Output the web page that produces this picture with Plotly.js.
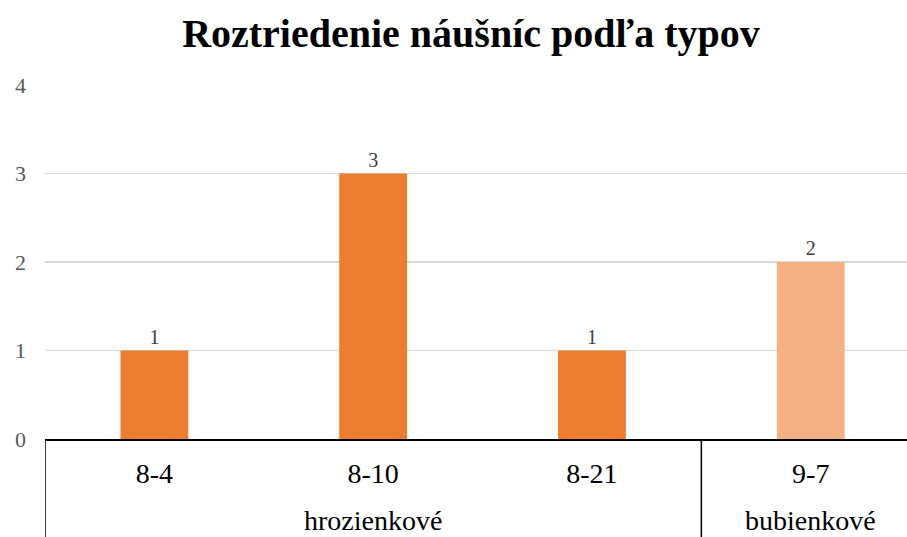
<!DOCTYPE html>
<html>
<head>
<meta charset="utf-8">
<script src="https://cdn.plot.ly/plotly-3.0.1.min.js"></script>
<style>html,body{margin:0;padding:0;background:#fff;}#chart{width:907px;height:537px;}</style>
</head>
<body>
<div id="chart"></div>
<script>
const groups = ['hrozienkové', 'hrozienkové', 'hrozienkové', 'bubienkové'];
const types = ['8-4', '8-10', '8-21', '9-7'];
const counts = [1, 3, 1, 2];
const barColors = ['#ED7D31', '#ED7D31', '#ED7D31', '#F4B183'];
const yTicks = [0, 1, 2, 3, 4];
const titleText = 'Roztriedenie náušníc podľa typov';

const serif = 'Liberation Serif';

// group runs (start/end category index) derived from the groups array
const runs = [];
groups.forEach((g, i) => {
  if (runs.length && runs[runs.length - 1].name === g) runs[runs.length - 1].end = i;
  else runs.push({ name: g, start: i, end: i });
});

const groupAnnotations = runs.map(r => ({
  x: (r.start + r.end) / 2,
  xref: 'x',
  y: -0.2316,
  yref: 'paper',
  text: r.name,
  showarrow: false,
  xanchor: 'center',
  yanchor: 'middle',
  borderpad: 0,
  font: { family: serif, size: 28, color: '#000000' }
}));

const dividerShapes = runs.map(r => ({
  type: 'line',
  xref: 'x',
  yref: 'paper',
  x0: r.start - 0.5,
  x1: r.start - 0.5,
  y0: 0,
  y1: -0.32,
  line: { color: '#000000', width: 1.5 }
}));

const trace = {
  type: 'bar',
  x: types,
  y: counts,
  marker: { color: barColors },
  width: 0.31,
  text: counts.map(String),
  textposition: 'outside',
  textfont: { family: serif, size: 20, color: '#404040' },
  cliponaxis: false,
  hoverinfo: 'none'
};

const layout = {
  width: 907,
  height: 537,
  paper_bgcolor: '#ffffff',
  plot_bgcolor: '#ffffff',
  margin: { l: 45, r: 0, t: 85, b: 98 },
  showlegend: false,
  font: { family: serif },
  title: {
    text: '<b>' + titleText + '</b>',
    font: { family: serif, size: 40, color: '#000000' },
    x: 471 / 907,
    xref: 'container',
    xanchor: 'center',
    y: 1 - 33 / 537,
    yref: 'container',
    yanchor: 'middle'
  },
  xaxis: {
    type: 'category',
    categoryarray: types,
    range: [-0.5, 3.44],
    showline: true,
    linecolor: '#000000',
    linewidth: 1.5,
    showgrid: false,
    zeroline: false,
    tickfont: { family: serif, size: 28, color: '#000000' },
    ticks: '',
    ticklabelstandoff: 9
  },
  yaxis: {
    range: [0, 4],
    tickvals: yTicks,
    ticktext: yTicks.map(String),
    showgrid: true,
    gridcolor: '#D9D9D9',
    gridwidth: 1.5,
    zeroline: false,
    showline: false,
    ticks: '',
    ticklabelstandoff: 18,
    tickfont: { family: serif, size: 22, color: '#595959' }
  },
  annotations: groupAnnotations,
  shapes: dividerShapes
};

Plotly.newPlot('chart', [trace], layout, { staticPlot: true, displayModeBar: false });
</script>
</body>
</html>
